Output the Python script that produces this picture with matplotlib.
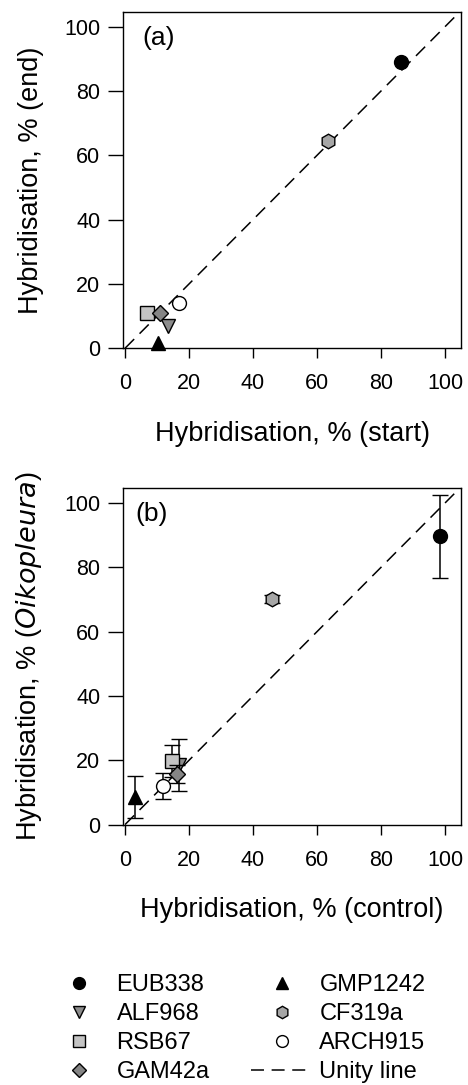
import matplotlib.pyplot as plt
import numpy as np
from matplotlib.lines import Line2D

plt.rcParams['font.family'] = ['Liberation Sans', 'DejaVu Sans']

# Probes and their marker styles
probes = ['EUB338', 'ALF968', 'RSB67', 'GAM42a', 'GMP1242', 'CF319a', 'ARCH915']
markers = ['o', 'v', 's', 'D', '^', 'h', 'o']
fills = ['black', '#8c8c8c', '#c4c4c4', '#858585', 'black', '#a6a6a6', 'white']
sizes = [10, 9.5, 9.5, 8.5, 10, 10.5, 10]

# (a) hybridisation at start vs end of incubation
start_pct = [86.3, 13.5, 6.8, 10.9, 10.2, 63.3, 16.9]
end_pct = [89.1, 6.8, 10.9, 11.1, 1.5, 64.4, 14.1]

# (b) control vs Oikopleura gut, with error
control_pct = [98.5, 16.8, 14.6, 16.3, 3.1, 45.8, 11.8]
oiko_pct = [89.7, 18.5, 19.8, 15.8, 8.7, 70.1, 11.9]
oiko_err = [12.9, 8.0, 4.9, 2.8, 6.5, 1.2, 4.0]

unity = [0, 105]
ticks = [0, 20, 40, 60, 80, 100]
dash = (8.5, 5)

fig = plt.figure(figsize=(4.68, 10.85), dpi=100)
ax_a = fig.add_axes([0.263, 0.679, 0.722, 0.310])
ax_b = fig.add_axes([0.263, 0.240, 0.722, 0.310])


def style_axes(ax, tag, tag_x, xlabel, ylabel):
    ax.set_xlim(-0.6, 105)
    ax.set_ylim(0, 104.6)
    ax.set_xticks(ticks)
    ax.set_yticks(ticks)
    ax.tick_params(axis='x', direction='out', length=7, width=1,
                   labelsize=15.5, pad=11, top=False)
    ax.tick_params(axis='y', direction='out', length=11, width=1,
                   labelsize=15.5, pad=5.5, right=False)
    for sp in ax.spines.values():
        sp.set_linewidth(1)
    ax.set_xlabel(xlabel, fontsize=19.5)
    ax.set_ylabel(ylabel, fontsize=19.5)
    ax.xaxis.set_label_coords(0.5, -0.215)
    ax.yaxis.set_label_coords(-0.235, 0.5)
    ax.text(tag_x, 0.922, tag, transform=ax.transAxes, fontsize=19,
            ha='left', va='center')


# unity lines
for ax in (ax_a, ax_b):
    ax.plot(unity, unity, color='black', lw=1.1, dashes=dash, zorder=1)

for i, name in enumerate(probes):
    ax_a.plot(start_pct[i], end_pct[i], linestyle='none', marker=markers[i],
              ms=sizes[i], mfc=fills[i], mec='black', mew=1, clip_on=False,
              zorder=3 + i)
    ax_b.errorbar(control_pct[i], oiko_pct[i], yerr=oiko_err[i],
                  fmt=markers[i], ms=sizes[i], mfc=fills[i], mec='black',
                  mew=1, ecolor='black', elinewidth=1.1, capsize=6,
                  capthick=1.1, clip_on=False, zorder=3 + i)

style_axes(ax_a, '(a)', 0.056, 'Hybridisation, % (start)',
           'Hybridisation, % (end)')
style_axes(ax_b, '(b)', 0.036, 'Hybridisation, % (control)',
           'Hybridisation, % ($\\it{Oikopleura}$)')

handles = [Line2D([], [], linestyle='none', marker=markers[i], ms=sizes[i] * 0.85,
                  mfc=fills[i], mec='black', mew=1) for i in range(len(probes))]
handles.append(Line2D([], [], color='black', lw=1.1, dashes=dash))
labels = probes + ['Unity line']

fig.legend(handles, labels, loc='upper left', bbox_to_anchor=(0.1026, 0.1025),
           ncol=2, frameon=False, fontsize=17, handlelength=2.6,
           handletextpad=0.3, columnspacing=1.75, labelspacing=0.3,
           borderpad=0, borderaxespad=0)

fig.savefig('out.png', dpi=100)
